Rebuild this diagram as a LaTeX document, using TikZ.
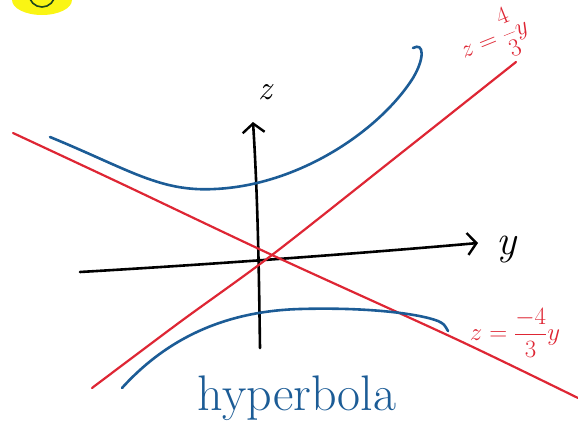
\documentclass[tikz,border=0pt]{standalone}
\usetikzlibrary{arrows.meta}
\definecolor{penred}{RGB}{222,38,52}
\definecolor{penblue}{RGB}{28,92,150}
\definecolor{penyellow}{RGB}{250,245,20}
\definecolor{pengreen}{RGB}{30,70,30}
\tikzset{
  axisline/.style={line width=2.6pt, line cap=round, black},
  redline/.style={line width=2.2pt, line cap=round, penred},
  blueline/.style={line width=2.6pt, line cap=round, penblue},
  barb/.style={-{Straight Barb[length=9pt,width=22pt,line width=2.4pt]}},
  redlabel/.style={text=penred, inner sep=0pt},
}
\begin{document}
\begin{tikzpicture}[x=1pt,y=-1pt]
\useasboundingbox (0,0) rectangle (578,423);
\begin{scope}
\clip (0,0) rectangle (578,423);
% yellow highlight top-left
\fill[penyellow] (42,0) ellipse [x radius=30, y radius=15];
\draw[pengreen, line width=1.6pt] (42,-6) circle [radius=13];
% axes
\coordinate (yl) at (80,272);
\coordinate (yr) at (478,243);
\draw[axisline, barb] (yl) .. controls (250,262) and (400,250) .. (yr);
\coordinate (zb) at (260,348);
\coordinate (zt) at (253,122);
\draw[axisline, barb] (zb) .. controls (259,280) and (258,200) .. (zt);
\node[font=\fontsize{42}{42}\selectfont\itshape] (ylab) at (506,250) {y};
\node[font=\fontsize{34}{34}\selectfont\itshape] (zlab) at (265,92) {z};
% red asymptotes
\draw[redline] plot[smooth] coordinates {(92,388) (180,322) (272,255) (400,154) (516,62)};
\draw[redline] plot[smooth] coordinates {(13,133) (120,183) (272,255) (458,340) (578,398)};
\node[redlabel, font=\fontsize{28}{28}\selectfont, rotate=22] (lab1) at (494,38) {$\displaystyle z=\frac{4}{3}y$};
\node[redlabel, font=\fontsize{28}{28}\selectfont] (lab2) at (515,333) {$\displaystyle z=\frac{-4}{3}y$};
% blue hyperbola
\draw[blueline] (50,137) .. controls (130,170) and (160,192) .. (215,189)
  .. controls (300,185) and (380,130) .. (413,78)
  .. controls (425,58) and (424,42) .. (413,48);
\draw[blueline] (122,388) .. controls (170,335) and (230,311) .. (300,309)
  .. controls (370,307) and (420,314) .. (438,321)
  .. controls (444,324) .. (448,331);
\node[text=penblue, font=\fontsize{50}{50}\selectfont, anchor=base, inner sep=0pt] (hyp) at (297,410) {hyperbola};
\end{scope}
\end{tikzpicture}
\end{document}
